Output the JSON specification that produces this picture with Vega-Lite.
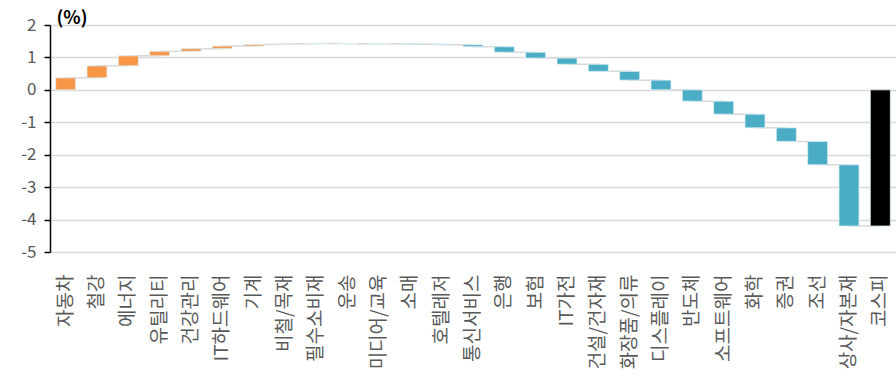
{
  "$schema": "https://vega.github.io/schema/vega-lite/v6.json",
  "width": 846,
  "height": 227,
  "autosize": {"type": "none"},
  "padding": {"left": 50, "top": 25, "right": 0, "bottom": 128},
  "background": "white",
  "config": {
    "view": {"stroke": null},
    "font": "Noto Sans CJK KR",
    "axisY": {
      "titleAngle": 0,
      "titleAlign": "left",
      "titleBaseline": "alphabetic",
      "titleX": 6,
      "titleY": -2,
      "titleFontSize": 18,
      "titleFontWeight": "bold",
      "titleColor": "#000000",
      "labelOverlap": false,
      "labelFontSize": 17,
      "labelColor": "#595959",
      "labelPadding": 8,
      "tickSize": 6,
      "tickColor": "#000000",
      "tickWidth": 1.5,
      "domainColor": "#000000",
      "domainWidth": 1.5,
      "grid": true,
      "gridColor": "#D9D9D9",
      "gridWidth": 1.5
    }
  },
  "data": {
    "values": [
      {"sector": "자동차", "start": 0.00, "end": 0.37, "kind": "up"},
      {"sector": "철강", "start": 0.37, "end": 0.74, "kind": "up"},
      {"sector": "에너지", "start": 0.74, "end": 1.05, "kind": "up"},
      {"sector": "유틸리티", "start": 1.05, "end": 1.19, "kind": "up"},
      {"sector": "건강관리", "start": 1.19, "end": 1.27, "kind": "up"},
      {"sector": "IT하드웨어", "start": 1.27, "end": 1.35, "kind": "up"},
      {"sector": "기계", "start": 1.35, "end": 1.40, "kind": "up"},
      {"sector": "비철/목재", "start": 1.40, "end": 1.42, "kind": "up"},
      {"sector": "필수소비재", "start": 1.42, "end": 1.43, "kind": "up"},
      {"sector": "운송", "start": 1.43, "end": 1.425, "kind": "down"},
      {"sector": "미디어/교육", "start": 1.425, "end": 1.42, "kind": "down"},
      {"sector": "소매", "start": 1.42, "end": 1.41, "kind": "down"},
      {"sector": "호텔레저", "start": 1.41, "end": 1.39, "kind": "down"},
      {"sector": "통신서비스", "start": 1.39, "end": 1.33, "kind": "down"},
      {"sector": "은행", "start": 1.33, "end": 1.16, "kind": "down"},
      {"sector": "보험", "start": 1.16, "end": 0.98, "kind": "down"},
      {"sector": "IT가전", "start": 0.98, "end": 0.79, "kind": "down"},
      {"sector": "건설/건자재", "start": 0.79, "end": 0.57, "kind": "down"},
      {"sector": "화장품/의류", "start": 0.57, "end": 0.30, "kind": "down"},
      {"sector": "디스플레이", "start": 0.30, "end": 0.00, "kind": "down"},
      {"sector": "반도체", "start": 0.00, "end": -0.35, "kind": "down"},
      {"sector": "소프트웨어", "start": -0.35, "end": -0.75, "kind": "down"},
      {"sector": "화학", "start": -0.75, "end": -1.17, "kind": "down"},
      {"sector": "증권", "start": -1.17, "end": -1.59, "kind": "down"},
      {"sector": "조선", "start": -1.59, "end": -2.31, "kind": "down"},
      {"sector": "상사/자본재", "start": -2.31, "end": -4.20, "kind": "down"},
      {"sector": "코스피", "start": 0.00, "end": -4.20, "kind": "total"}
    ]
  },
  "encoding": {
    "x": {
      "field": "sector",
      "type": "nominal",
      "sort": null,
      "scale": {"paddingInner": 0.36, "paddingOuter": 0.18},
      "axis": {
        "title": null,
        "labelAngle": -90,
        "labelFontSize": 19,
        "labelColor": "#595959",
        "labelPadding": 22,
        "labelOverlap": false,
        "ticks": false,
        "domain": false
      }
    }
  },
  "layer": [
    {
      "mark": {"type": "line", "interpolate": "step-after", "color": "#D9D9D9", "strokeWidth": 1.5},
      "encoding": {
        "y": {
          "field": "end",
          "type": "quantitative",
          "title": "(%)",
          "scale": {"domain": [-5, 2], "nice": false},
          "axis": {"title": "(%)", "values": [-5, -4, -3, -2, -1, 0, 1, 2], "labelExpr": "'' + datum.value"}
        }
      }
    },
    {
      "mark": {"type": "bar", "stroke": "#DDF1F6", "strokeWidth": 0.8},
      "encoding": {
        "y": {
          "field": "start",
          "type": "quantitative",
          "title": "(%)",
          "axis": {"title": "(%)", "values": [-5, -4, -3, -2, -1, 0, 1, 2], "labelExpr": "'' + datum.value"}
        },
        "y2": {"field": "end"},
        "color": {
          "field": "kind",
          "type": "nominal",
          "scale": {"domain": ["up", "down", "total"], "range": ["#F79646", "#4BACC6", "#000000"]},
          "legend": null
        }
      }
    }
  ]
}
